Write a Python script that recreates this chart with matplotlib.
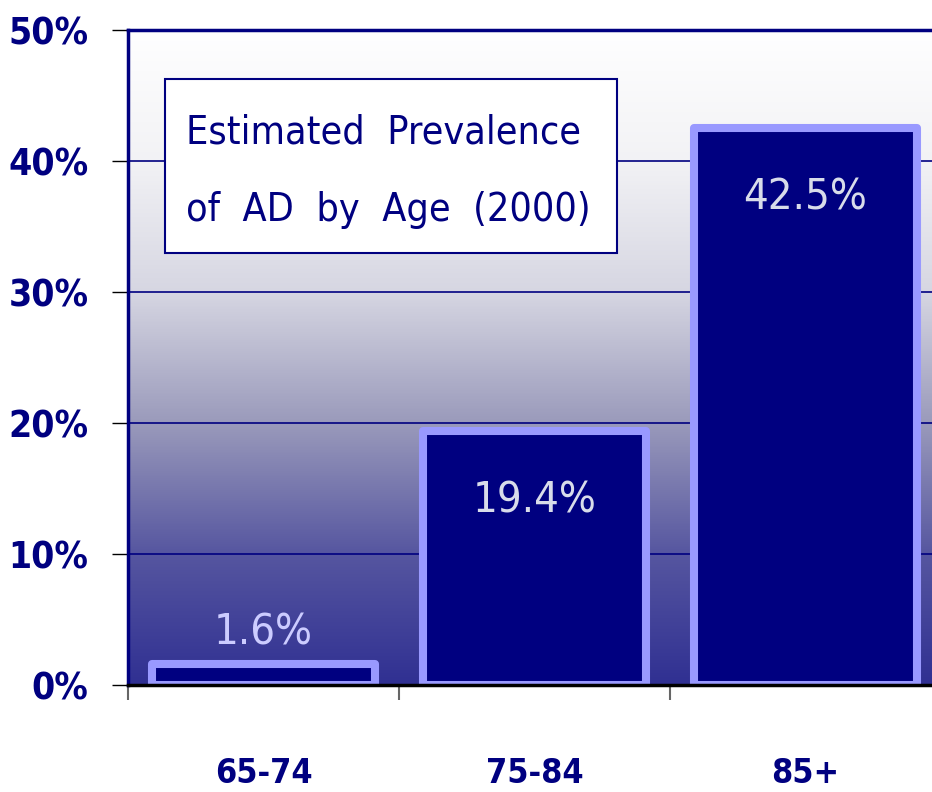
#!/usr/bin/env python3

import numpy as np
import matplotlib
matplotlib.use("Agg")
import matplotlib.pyplot as plt
from matplotlib import font_manager
from matplotlib.colors import LinearSegmentedColormap
from matplotlib.patches import Rectangle

#================ Data =====================
age_groups = ["65-74", "75-84", "85+"]
prevalence = [1.6, 19.4, 42.5]
value_labels = ["1.6%", "19.4%", "42.5%"]
y_ticks = [0, 10, 20, 30, 40, 50]
y_tick_labels = ["0%", "10%", "20%", "30%", "40%", "50%"]
title_lines = ["Estimated  Prevalence", "of  AD  by  Age  (2000)"]


#================ Font lookup =====================
def narrow_font(bold=False):
    """Find a condensed / narrow font file if one is installed."""
    hits = []
    for f in font_manager.fontManager.ttflist:
        tag = (f.name + " " + f.fname).lower()
        narrow = ("condensed" in tag or "narrow" in tag
                  or str(f.stretch) in ("condensed", "semi-condensed", "extra-condensed"))
        if not narrow or f.style != "normal":
            continue
        w = f.weight if isinstance(f.weight, int) else (700 if "bold" in str(f.weight) else 400)
        if (w >= 600) == bold:
            hits.append(f)
    if not hits:
        return None
    # prefer sans families
    hits.sort(key=lambda f: ("sans" not in f.name.lower(), "dejavu" not in f.name.lower()))
    return font_manager.FontProperties(fname=hits[0].fname)


fp_reg = narrow_font(False) or font_manager.FontProperties(family="DejaVu Sans")
fp_bold = narrow_font(True) or font_manager.FontProperties(family="DejaVu Sans", weight="bold")


def sized(fp, size):
    p = fp.copy()
    p.set_size(size)
    return p


navy = "#000080"
edge = "#9999FF"

fig = plt.figure(figsize=(9.32, 7.92), dpi=100)
ax = fig.add_axes([128 / 932, 107 / 792, 813 / 932, 655 / 792])

#================ Gradient background ======================
bg = LinearSegmentedColormap.from_list(
    "bg",
    [(0.0, "#303092"), (0.2, "#5656A0"), (0.4, "#9A9ABB"),
     (0.6, "#D6D6E2"), (0.8, "#F2F2F5"), (1.0, "#FFFFFF")])
grad = np.linspace(0, 1, 256).reshape(-1, 1)
ax.imshow(grad, cmap=bg, origin="lower", aspect="auto",
          extent=[0, 3, 0, 50], zorder=0)

# grid lines
for t in y_ticks[1:-1]:
    ax.axhline(t, color=navy, linewidth=1.2, zorder=1)

#================ Bars ======================================
x = np.arange(len(age_groups)) + 0.5
bars = ax.bar(x, prevalence, width=0.82, color=navy, edgecolor=edge,
              linewidth=5.8, zorder=2)
for b in bars:
    b.set_joinstyle("round")

label_colors = ["#CCCCFF", "#D8DCEA", "#D8DCEA"]
value_texts = []
for xi, v, lab, c in zip(x, prevalence, value_labels, label_colors):
    yy = v + 2.4 if v < 10 else v - 5.3
    value_texts.append(ax.text(xi, yy, lab, ha="center", va="center",
                               fontproperties=sized(fp_reg, 32), color=c, zorder=3))

#================ Axes styling ==============================
ax.set_xlim(0, 3)
ax.set_ylim(0, 50)
ax.set_yticks(y_ticks)
ax.set_yticklabels(y_tick_labels, fontproperties=sized(fp_bold, 31), color=navy)
ax.tick_params(axis="y", length=11.5, width=1, color="black", pad=17)

ax.set_xticks(x)
ax.set_xticklabels(age_groups, fontproperties=sized(fp_bold, 30), color=navy)
ax.tick_params(axis="x", length=0, pad=52)
ax.set_xticks([0, 1, 2, 3], minor=True)
ax.tick_params(axis="x", which="minor", length=11, width=1.5, color="#666666")

ax.spines["right"].set_visible(False)
ax.spines["top"].set_color(navy)
ax.spines["top"].set_linewidth(2.5)
ax.spines["left"].set_color(navy)
ax.spines["left"].set_linewidth(2.5)
ax.spines["bottom"].set_color("black")
ax.spines["bottom"].set_linewidth(2.5)

#================ Title box =================================
box = Rectangle((165 / 932, 1 - 253 / 792), 452 / 932, 174 / 792,
                transform=fig.transFigure, facecolor="white",
                edgecolor=navy, linewidth=1.5, zorder=5)
fig.patches.append(box)
title_texts = [
    fig.text(186 / 932, 1 - 133 / 792, title_lines[0], fontproperties=sized(fp_reg, 33),
             color=navy, va="center", ha="left", zorder=6),
    fig.text(186 / 932, 1 - 210 / 792, title_lines[1], fontproperties=sized(fp_reg, 33),
             color=navy, va="center", ha="left", zorder=6),
]


#================ Fit text sizes to the reference ==========
def fit_group(texts, ref_idx, target_px):
    """Scale one whole group of texts so that texts[ref_idx] is target_px wide."""
    r = fig.canvas.get_renderer()
    t = texts[ref_idx]
    s = t.get_fontsize() * target_px / t.get_window_extent(r).width
    for tt in texts:
        tt.set_fontsize(s)


fig.canvas.draw()
fit_group(title_texts, 1, 405)
fit_group(value_texts, 2, 124)
fit_group(ax.get_yticklabels(), 5, 80)
fit_group(ax.get_xticklabels(), 0, 98)

fig.savefig("out.png", dpi=100)
